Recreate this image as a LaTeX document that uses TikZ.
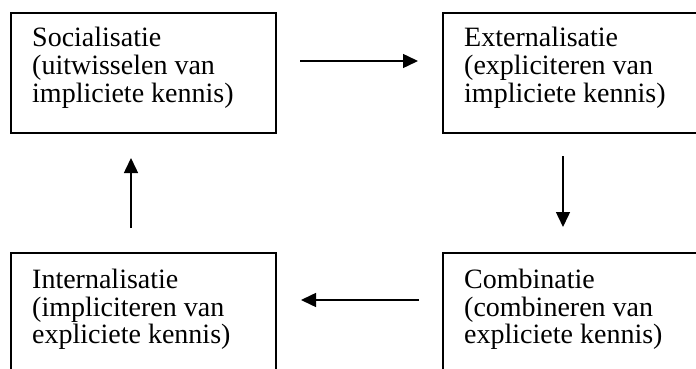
\documentclass[tikz,border=0pt]{standalone}
\usepackage{fontspec}
\setmainfont{Liberation Serif}
\usetikzlibrary{arrows.meta,calc}
\tikzset{
  box/.style={draw, line width=2pt, rectangle, minimum width=265pt, minimum height=120pt, inner sep=0pt},
  txt/.style={anchor=base west, align=left, inner sep=0pt, font=\fontsize{28pt}{27.5pt}\selectfont},
  arr/.style={line width=1.5pt, -{Triangle[length=15pt,width=14pt]}}
}
\begin{document}
\begin{tikzpicture}[x=1pt,y=-1pt]
\useasboundingbox (0,0) rectangle (696,369);
\clip (0,0) rectangle (696,369);
\node[box] (soc) at (143.5,73) {};
\node[box] (ext) at (575.5,73) {};
\node[box] (intl) at (143.5,313) {};
\node[box] (comb) at (575.5,313) {};
\node[txt] (soct) at ($(soc.north west)+(22,90)$) {Socialisatie\\(uitwisselen van\\impliciete kennis)};
\node[txt] (extt) at ($(ext.north west)+(22,90)$) {Externalisatie\\(expliciteren van\\impliciete kennis)};
\node[txt] (intlt) at ($(intl.north west)+(22,91.5)$) {Internalisatie\\(impliciteren van\\expliciete kennis)};
\node[txt] (combt) at ($(comb.north west)+(22,91.5)$) {Combinatie\\(combineren van\\expliciete kennis)};
\draw[arr] ($(soc.east)+(23,-12)$) -- ($(ext.west)+(-24,-12)$);
\draw[arr] ($(ext.south)+(-12.5,22)$) -- ($(comb.north)+(-12.5,-25)$);
\draw[arr] ($(comb.west)+(-23,-13)$) -- ($(intl.east)+(24,-13)$);
\draw[arr] ($(intl.north)+(-12.5,-24)$) -- ($(soc.south)+(-12.5,24)$);
\end{tikzpicture}
\end{document}
